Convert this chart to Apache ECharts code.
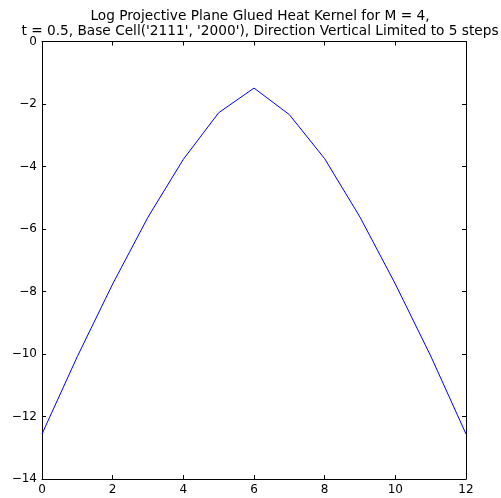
<!DOCTYPE html>
<html>
<head>
<meta charset="utf-8">
<script src="https://cdn.jsdelivr.net/npm/echarts@6/dist/echarts.min.js"></script>
<style>html,body{margin:0;padding:0;background:#fff}#c{width:501px;height:498px}</style>
</head>
<body>
<div id="c"></div>
<script>
const titleLines = ["Log Projective Plane Glued Heat Kernel for M = 4,", "t = 0.5, Base Cell('2111', '2000'), Direction Vertical Limited to 5 steps"];
const xValues = [0, 1, 2, 3, 4, 5, 6, 7, 8, 9, 10, 11, 12];
const yValues = [-12.56, -10.08, -7.76, -5.62, -3.77, -2.28, -1.49, -2.34, -3.75, -5.62, -7.76, -10.06, -12.56];
const xTicks = [0, 2, 4, 6, 8, 10, 12];
const yTicks = [0, -2, -4, -6, -8, -10, -12, -14];

const font = 'DejaVu Sans';
const fmt = v => (v < 0 ? '\u2212' + Math.abs(v) : String(v));
const chart = echarts.init(document.getElementById('c'), null, {renderer: 'canvas'});
const axisLine = {show: true, onZero: false, lineStyle: {color: '#000', width: 1}};
const tick = {show: true, inside: true, length: 4, lineStyle: {color: '#000', width: 1}};
chart.setOption({
  animation: false,
  backgroundColor: '#fff',
  title: {
    text: titleLines.join('\n'),
    left: 255, top: 4, textAlign: 'center',
    textStyle: {fontFamily: font, fontSize: 13.7, fontWeight: 'normal', color: '#000', lineHeight: 15}
  },
  grid: {left: 42, right: 35, top: 41.5, bottom: 19, containLabel: false},
  xAxis: [
    {type: 'value', min: 0, max: 12, interval: 2, position: 'bottom',
     axisLine, axisTick: tick, splitLine: {show: false},
     axisLabel: {fontFamily: font, fontSize: 12, color: '#000', margin: 5, formatter: fmt}},
    {type: 'value', min: 0, max: 12, interval: 2, position: 'top',
     axisLine, axisTick: tick, splitLine: {show: false}, axisLabel: {show: false}}
  ],
  yAxis: [
    {type: 'value', min: -14, max: 0, interval: 2, position: 'left',
     axisLine, axisTick: tick, splitLine: {show: false},
     axisLabel: {fontFamily: font, fontSize: 12, color: '#000', margin: 5, formatter: fmt}},
    {type: 'value', min: -14, max: 0, interval: 2, position: 'right',
     axisLine, axisTick: tick, splitLine: {show: false}, axisLabel: {show: false}}
  ],
  series: [{
    type: 'line',
    data: xValues.map((x, i) => [x, yValues[i]]),
    showSymbol: false,
    lineStyle: {color: '#0000ff', width: 1},
    itemStyle: {color: '#0000ff'}
  }]
});
</script>
</body>
</html>
